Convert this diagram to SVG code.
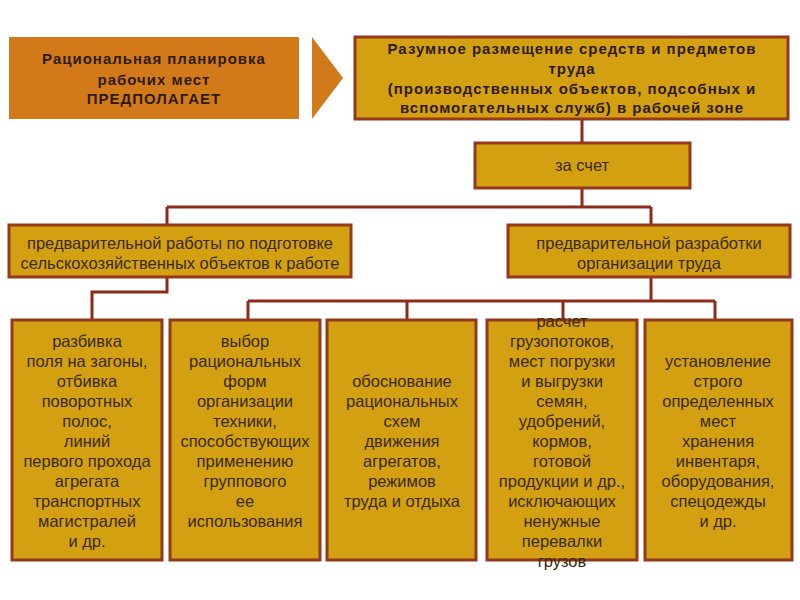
<svg xmlns="http://www.w3.org/2000/svg" width="800" height="600" viewBox="0 0 800 600">
<style>
.box{fill:#D3A012;stroke:#94391B;stroke-width:3}
.t{font-family:"Liberation Sans",Arial,sans-serif;font-size:16.5px;fill:#3A2A0C;text-anchor:middle}
.b{font-weight:bold;font-size:15px;fill:#2E1A08;letter-spacing:1px}
.c{fill:none;stroke:#8E2A1A;stroke-width:3}
</style>
<rect width="800" height="600" fill="#FFFFFF"/>
<g id="connectors">
<path class="c" d="M582 119V143M582 188V207M167 207H651M167 207V225M651 207V225"/>
<path class="c" d="M167 277V292H92V320"/>
<path class="c" d="M651 277V301M248 301H715M248 301V320M407 301V320M563 301V320M715 301V320"/>
</g>
<g id="n1">
<rect x="9" y="37" width="290" height="82" fill="#D27A1A"/>
<text class="t b"><tspan x="154" y="64">Рациональная планировка</tspan><tspan x="154" y="85">рабочих мест</tspan><tspan x="154" y="104">ПРЕДПОЛАГАЕТ</tspan></text>
</g>
<g id="chevron">
<polygon points="312,37 343,78 312,119" fill="#D27A1A"/>
</g>
<g id="n2">
<rect class="box" x="355" y="37" width="433" height="82"/>
<text class="t b"><tspan x="572" y="54">Разумное размещение средств и предметов</tspan><tspan x="572" y="74">труда</tspan><tspan x="572" y="94">(производственных объектов, подсобных и</tspan><tspan x="572" y="113">вспомогательных служб) в рабочей зоне</tspan></text>
</g>
<g id="n3">
<rect class="box" x="475" y="143" width="215" height="45"/>
<text class="t" x="582" y="171">за счет</text>
</g>
<g id="n4">
<rect class="box" x="9" y="225" width="342" height="52"/>
<text class="t"><tspan x="180" y="249">предварительной работы по подготовке</tspan><tspan x="180" y="269">сельскохозяйственных объектов к работе</tspan></text>
</g>
<g id="n5">
<rect class="box" x="508" y="225" width="282" height="52"/>
<text class="t"><tspan x="649" y="249">предварительной разработки</tspan><tspan x="649" y="269">организации труда</tspan></text>
</g>
<g id="n6">
<rect class="box" x="12" y="320" width="150" height="240"/>
<text class="t"><tspan x="87" y="347">разбивка</tspan><tspan x="87" y="367">поля на загоны,</tspan><tspan x="87" y="387">отбивка</tspan><tspan x="87" y="407">поворотных</tspan><tspan x="87" y="427">полос,</tspan><tspan x="87" y="447">линий</tspan><tspan x="87" y="467">первого прохода</tspan><tspan x="87" y="487">агрегата</tspan><tspan x="87" y="507">транспортных</tspan><tspan x="87" y="527">магистралей</tspan><tspan x="87" y="547">и др.</tspan></text>
</g>
<g id="n7">
<rect class="box" x="170" y="320" width="150" height="240"/>
<text class="t"><tspan x="245" y="347">выбор</tspan><tspan x="245" y="367">рациональных</tspan><tspan x="245" y="387">форм</tspan><tspan x="245" y="407">организации</tspan><tspan x="245" y="427">техники,</tspan><tspan x="245" y="447">способствующих</tspan><tspan x="245" y="467">применению</tspan><tspan x="245" y="487">группового</tspan><tspan x="245" y="507">ее</tspan><tspan x="245" y="527">использования</tspan></text>
</g>
<g id="n8">
<rect class="box" x="327" y="320" width="149" height="240"/>
<text class="t"><tspan x="402" y="387">обоснование</tspan><tspan x="402" y="407">рациональных</tspan><tspan x="402" y="427">схем</tspan><tspan x="402" y="447">движения</tspan><tspan x="402" y="467">агрегатов,</tspan><tspan x="402" y="487">режимов</tspan><tspan x="402" y="507">труда и отдыха</tspan></text>
</g>
<g id="n9">
<rect class="box" x="487" y="320" width="150" height="240"/>
<text class="t"><tspan x="562" y="327">расчет</tspan><tspan x="562" y="347">грузопотоков,</tspan><tspan x="562" y="367">мест погрузки</tspan><tspan x="562" y="387">и выгрузки</tspan><tspan x="562" y="407">семян,</tspan><tspan x="562" y="427">удобрений,</tspan><tspan x="562" y="447">кормов,</tspan><tspan x="562" y="467">готовой</tspan><tspan x="562" y="487">продукции и др.,</tspan><tspan x="562" y="507">исключающих</tspan><tspan x="562" y="527">ненужные</tspan><tspan x="562" y="547">перевалки</tspan><tspan x="562" y="567">грузов</tspan></text>
</g>
<g id="n10">
<rect class="box" x="645" y="320" width="147" height="240"/>
<text class="t"><tspan x="718" y="367">установление</tspan><tspan x="718" y="387">строго</tspan><tspan x="718" y="407">определенных</tspan><tspan x="718" y="427">мест</tspan><tspan x="718" y="447">хранения</tspan><tspan x="718" y="467">инвентаря,</tspan><tspan x="718" y="487">оборудования,</tspan><tspan x="718" y="507">спецодежды</tspan><tspan x="718" y="527">и др.</tspan></text>
</g>
</svg>
